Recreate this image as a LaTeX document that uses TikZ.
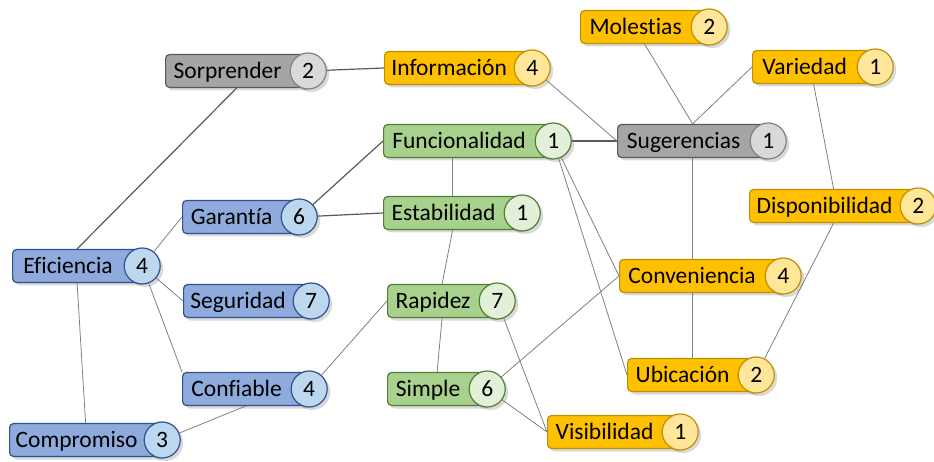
\documentclass[tikz,border=0pt]{standalone}
\usepackage{fontspec}
\setmainfont{Carlito}[Ligatures=NoCommon]
\usetikzlibrary{shadows,backgrounds}

\definecolor{bluefill}{HTML}{8FAADC}
\definecolor{blueline}{HTML}{2F528F}
\definecolor{bluelight}{HTML}{BDD7EE}
\definecolor{greenfill}{HTML}{A9D18E}
\definecolor{greenline}{HTML}{507E32}
\definecolor{greenlight}{HTML}{E2F0D9}
\definecolor{orangefill}{HTML}{FFC000}
\definecolor{orangeline}{HTML}{BF9000}
\definecolor{orangelight}{HTML}{FFE699}
\definecolor{grayfill}{HTML}{A5A5A5}
\definecolor{grayline}{HTML}{595959}
\definecolor{graylight}{HTML}{D9D9D9}

\begin{document}
\begin{tikzpicture}
    [x=1pt,y=-1pt,
    every node/.style={font=\fontsize{23.5}{28}\selectfont,text height=15pt,text depth=0pt},
    tag/.style={anchor=west,rounded corners=4pt,line width=1.2pt,
        minimum height=33pt,inner xsep=6pt,inner ysep=0pt,
        execute at end node={\hspace*{18pt}},
        drop shadow={shadow xshift=3pt,shadow yshift=-3pt,opacity=.3}},
    num/.style={circle,line width=1.2pt,minimum size=36pt,inner sep=0pt,
        drop shadow={shadow xshift=3pt,shadow yshift=-3pt,opacity=.3}},
    blue tag/.style={tag,draw=blueline,fill=bluefill},
    blue num/.style={num,draw=blueline,fill=bluelight},
    green tag/.style={tag,draw=greenline,fill=greenfill},
    green num/.style={num,draw=greenline,fill=greenlight},
    orange tag/.style={tag,draw=orangeline,fill=orangefill},
    orange num/.style={num,draw=orangeline,fill=orangelight},
    gray tag/.style={tag,draw=grayline,fill=grayfill},
    gray num/.style={num,draw=black!50,fill=graylight},
    link/.style={draw=black!50,line width=.8pt},
    strong link/.style={draw=black!65,line width=1.2pt}]
    \useasboundingbox (0,0) rectangle (934,462);
    % columna izquierda
    \node [gray tag,minimum width=142pt] (sorp) at (165,71) {Sorprender};
    \node [gray num] (sorp-n) at (sorp.east) {2};
    \node [blue tag,minimum width=129pt] (efic) at (12,266) {Eficiencia};
    \node [blue num] (efic-n) at (efic.east) {4};
    \node [blue tag,minimum width=152pt] (comp) at (9,440) {Compromiso};
    \node [blue num] (comp-n) at (comp.east) {3};
    \node [blue tag,minimum width=116pt] (gara) at (182,217) {Garantía};
    \node [blue num] (gara-n) at (gara.east) {6};
    \node [blue tag,minimum width=127pt] (segu) at (183,301) {Seguridad};
    \node [blue num] (segu-n) at (segu.east) {7};
    \node [blue tag,minimum width=126pt] (conf) at (182,389) {Confiable};
    \node [blue num] (conf-n) at (conf.east) {4};
    % columna central
    \node [orange tag,minimum width=147pt] (info) at (384,68) {Información};
    \node [orange num] (info-n) at (info.east) {4};
    \node [green tag,minimum width=169pt] (func) at (383,141) {Funcionalidad};
    \node [green num] (func-n) at (func.east) {1};
    \node [green tag,minimum width=138pt] (esta) at (383,213) {Estabilidad};
    \node [green num] (esta-n) at (esta.east) {1};
    \node [green tag,minimum width=109pt] (rapi) at (387,301) {Rapidez};
    \node [green num] (rapi-n) at (rapi.east) {7};
    \node [green tag,minimum width=99pt] (simp) at (387,389) {Simple};
    \node [green num] (simp-n) at (simp.east) {6};
    \node [orange tag,minimum width=132pt] (visi) at (547,432) {Visibilidad};
    \node [orange num] (visi-n) at (visi.east) {1};
    % columna derecha
    \node [orange tag,minimum width=128pt] (mole) at (580,27) {Molestias};
    \node [orange num] (mole-n) at (mole.east) {2};
    \node [orange tag,minimum width=122pt] (vari) at (752,67) {Variedad};
    \node [orange num] (vari-n) at (vari.east) {1};
    \node [gray tag,minimum width=150pt] (suge) at (617,141) {Sugerencias};
    \node [gray num] (suge-n) at (suge.east) {1};
    \node [orange tag,minimum width=168pt] (disp) at (749,206) {Disponibilidad};
    \node [orange num] (disp-n) at (disp.east) {2};
    \node [orange tag,minimum width=163pt] (conv) at (619,276) {Conveniencia};
    \node [orange num] (conv-n) at (conv.east) {4};
    \node [orange tag,minimum width=128pt] (ubic) at (627,375) {Ubicación};
    \node [orange num] (ubic-n) at (ubic.east) {2};
    % conexiones
    \begin{scope}[on background layer]
        \draw [strong link] (sorp-n) -- (info.west);
        \draw [strong link] (sorp.south) -- (efic.north);
        \draw [strong link] (func-n) -- (suge.west);
        \draw [strong link] (gara-n) -- (func.west);
        \draw [strong link] (gara-n) -- (esta.west);
        \draw [link] (info-n) -- (suge.west);
        \draw [link] (mole.south) -- (suge.north);
        \draw [link] (vari.west) -- (suge.north);
        \draw [link] (vari.south) -- (disp.north);
        \draw [link] (disp.south) -- (ubic-n);
        \draw [link] (suge.south) -- (conv.north -| suge.south);
        \draw [link] (conv.south -| suge.south) -- (ubic.north -| suge.south);
        \draw [link] (func-n) -- (conv.west);
        \draw [link] (func-n) -- (ubic.west);
        \draw [link] (func.south -| esta.north) -- (esta.north);
        \draw [link] (esta.south) -- (rapi.north);
        \draw [link] (rapi.south) -- (simp.north);
        \draw [link] (efic-n) -- (gara.west);
        \draw [link] (efic-n) -- (segu.west);
        \draw [link] (efic-n) -- (conf.north west);
        \draw [link] (efic.south) -- (comp.north);
        \draw [link] (comp-n) -- (conf.south);
        \draw [link] (conf-n) -- (rapi.west);
        \draw [link] (rapi-n) -- (visi.west);
        \draw [link] (simp-n) -- (conv.west);
        \draw [link] (simp-n) -- (visi.west);
    \end{scope}
\end{tikzpicture}
\end{document}
